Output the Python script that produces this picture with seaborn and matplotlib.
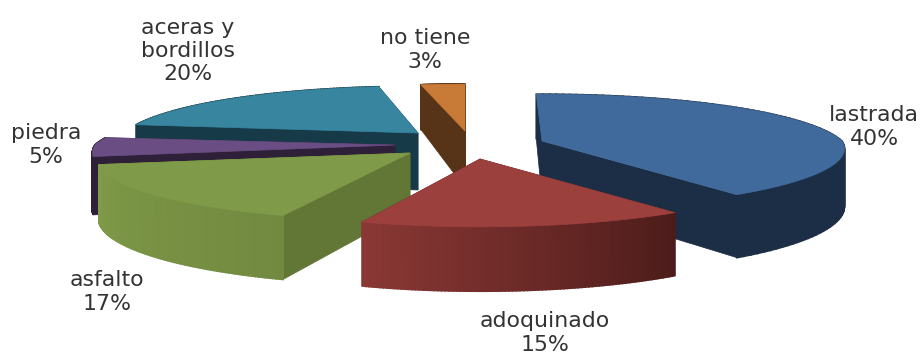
import numpy as np
import matplotlib
matplotlib.use("Agg")
import matplotlib.pyplot as plt
from matplotlib.colors import to_rgb
import seaborn as sns

categories = ["lastrada", "adoquinado", "asfalto", "piedra", "aceras y\nbordillos", "no tiene"]
values = [40, 15, 17, 5, 20, 3]
percent_labels = ["40%", "15%", "17%", "5%", "20%", "3%"]

top_colors = ["#416a9c", "#9c403e", "#7f9a48", "#6a4e83", "#38859f", "#c87a37"]
wall_start = ["#1b2e45", "#4d1c1a", "#728a40", "#2e2039", "#163a47", "#573317"]
wall_end = ["#1b2e45", "#8a3835", "#7f9a48", "#2e2039", "#163a47", "#573317"]
side_colors = ["#1b2e45", "#4d1c1a", "#627636", "#2e2039", "#163a47", "#573317"]
apex_x = [542, 480, 410, 395, 418, 465]
apex_y = [141, 159, 153, 145, 133, 131]
label_x = [874, 545, 107, 46, 188, 425]
label_y = [127, 333, 292, 145, 51, 50]
rim_scale = [1.0, 1.0, 1.03, 1.0, 0.98, 1.0]
start_trim = [-1.4, 0, 3.5, 0, 1, 0]
end_trim = [0, 2.5, 0, 0, 1, 0]
draw_order = [4, 3, 2, 5, 0, 1]

RX, RY, HEIGHT = 300, 60, 57

sns.set_theme(style="white")
plt.rcParams["font.family"] = ["DejaVu Sans"]
fig, ax = plt.subplots(figsize=(9.22, 3.56), dpi=100)
fig.subplots_adjust(0, 0, 1, 1)
ax.set_xlim(0, 922)
ax.set_ylim(356, 0)
ax.axis("off")

edges = np.cumsum([0] + values) * 3.6


def rim(theta_deg, scale):
    t = np.radians(theta_deg)
    u, v = np.sin(t), np.cos(t)
    s = np.where(v > 0, 1 - 0.22 * v, 1 - 0.13 * v)
    return RX * scale * u * s, -RY * v * s, HEIGHT * s


for i in draw_order:
    a0, a1 = edges[i] + start_trim[i], edges[i + 1] + end_trim[i]
    th = np.linspace(a0, a1, 90)
    dx, dy, h = rim(th, rim_scale[i])
    x = apex_x[i] + dx
    y = apex_y[i] + dy
    ax0, ay0 = apex_x[i], apex_y[i]
    side = side_colors[i]
    for k in (0, -1):
        ax.fill([ax0, x[k], x[k], ax0],
                [ay0, y[k], y[k] + h[k], ay0 + HEIGHT],
                color=side, lw=0.5)
    c0, c1 = np.array(to_rgb(wall_start[i])), np.array(to_rgb(wall_end[i]))
    for k in range(len(th) - 1):
        f = k / (len(th) - 2)
        col = c0 + (c1 - c0) * f
        ax.fill([x[k], x[k + 1], x[k + 1], x[k]],
                [y[k], y[k + 1], y[k + 1] + h[k + 1], y[k] + h[k]],
                color=col, lw=1.2)
    ax.fill(np.r_[ax0, x], np.r_[ay0, y], color=top_colors[i], lw=0.5)
    ax.text(label_x[i], label_y[i], f"{categories[i]}\n{percent_labels[i]}",
            ha="center", va="center", fontsize=15.8, color="#333333",
            linespacing=1.2)

fig.savefig("out.png", dpi=100, facecolor="white")
